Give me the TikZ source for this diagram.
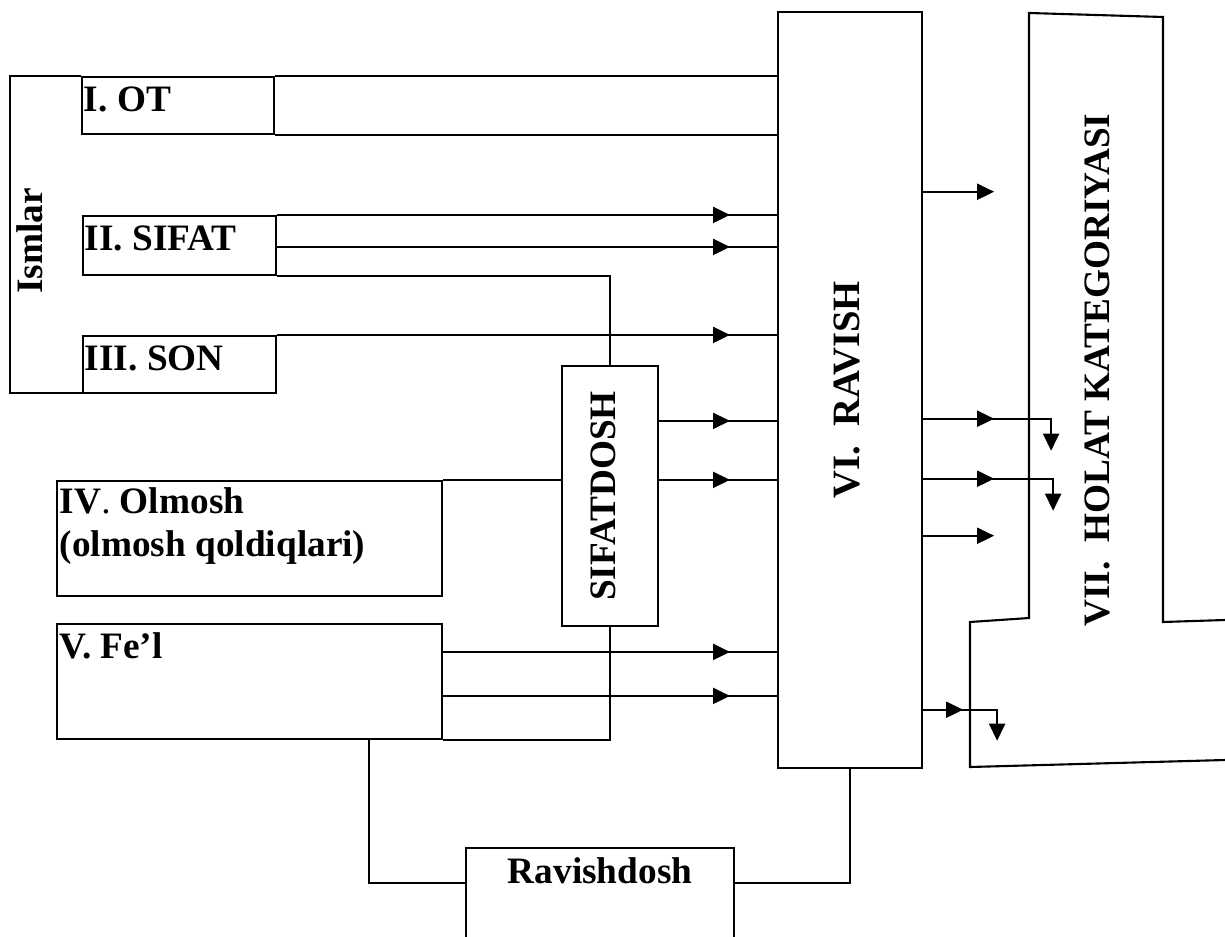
\documentclass[tikz,border=0pt]{standalone}
\usepackage{fontspec}
\setmainfont{Liberation Serif}
\usetikzlibrary{arrows.meta}

\begin{document}
\begin{tikzpicture}[x=0.01cm, y=-0.01cm, line width=0.6pt,
    every node/.style={font=\fontsize{10.6}{12.7}\selectfont\bfseries, inner sep=0pt},
    box/.style={draw, rectangle},
    arr/.style={-{Triangle[length=1.7mm, width=1.6mm]}}]
    \useasboundingbox (0,0) rectangle (1225,937);

    % 名詞 (Ismlar)
    \node [box, minimum width=1.92cm, minimum height=0.57cm] (ot) at (178,105.5) {};
    \node [anchor=base west] at ([shift={(2,36)}]ot.north west) {I. OT};
    \node [box, minimum width=1.93cm, minimum height=0.59cm] (sifat) at (179.5,245.5) {};
    \node [anchor=base west] at ([shift={(2,36)}]sifat.north west) {II. SIFAT};
    \node [box, minimum width=1.93cm, minimum height=0.57cm] (son) at (179.5,364.5) {};
    \node [anchor=base west] at ([shift={(2,36)}]son.north west) {III. SON};
    \draw (ot.north west) -| (10,393) -- (105,393);
    \node [rotate=90] (ismlar) at (30,241) {Ismlar};

    % 代名詞・動詞
    \node [box, minimum width=3.85cm, minimum height=1.15cm] (olmosh) at (249.5,538.5) {};
    \node [anchor=base west] at ([shift={(3,34)}]olmosh.north west) {IV\textmd{.} Olmosh};
    \node [anchor=base west] at ([shift={(3,77)}]olmosh.north west) {(olmosh qoldiqlari)};
    \node [box, minimum width=3.85cm, minimum height=1.15cm] (fel) at (249.5,681.5) {};
    \node [anchor=base west] at ([shift={(3,36)}]fel.north west) {V. Fe’l};

    % 形動詞
    \node [box, minimum width=0.96cm, minimum height=2.6cm] (sdosh) at (610,496) {};
    \node [rotate=90] at ([xshift=-0.07cm]sdosh.center) {SIFATDOSH};

    % 副詞
    \node [box, minimum width=1.44cm, minimum height=7.56cm] (ravish) at (850,390) {};
    \node [rotate=90, font=\fontsize{11}{13}\selectfont\bfseries] at ([xshift=-0.03cm]ravish.center) {VI.\ \ RAVISH};

    % 副動詞
    \node [minimum width=2.66cm, minimum height=0.89cm, anchor=north west] (rdosh) at (466,848) {};
    \draw (rdosh.south west) |- (rdosh.north east) -- (rdosh.south east);
    \node [anchor=base] at ([yshift=-0.35cm]rdosh.north) {Ravishdosh};

    % 状態カテゴリー
    \draw (1225,620) -- (1163,622) -- (1163,17) -- (1029,13) -- (1029,618)
        -- (970,622) -- (970,767) -- (1225,760);
    \node [rotate=90] (holat) at (1097,370) {VII.\ \ HOLAT KATEGORIYASI};

    % 左から副詞へ
    \coordinate (tip) at (730,0);
    \path (sifat.north east) ++(0,32) coordinate (a2);
    \path (sdosh.north east) ++(0,56) coordinate (s1) ++(0,59) coordinate (s2);
    \path (fel.north east) ++(0,29) coordinate (f1) ++(0,44) coordinate (f2);
    \draw (ot.north east) -- (ot.north east -| ravish.west);
    \draw (ot.south east) -- (ot.south east -| ravish.west);
    \foreach \p in {sifat.north east, a2, son.north east, s1, s2, f1, f2} {
        \draw (\p) -- (\p -| ravish.west);
        \draw [arr] (\p) -- (\p -| tip);
    }
    \draw (sifat.south east) -| (sdosh.north);
    \draw (olmosh.north east) -- (olmosh.north east -| sdosh.west);
    \draw (fel.south east) -| (sdosh.south);

    % 副動詞の線
    \path (rdosh.north west) ++(0,35) coordinate (r1);
    \path (rdosh.north east) ++(0,35) coordinate (r2);
    \draw (fel.south west) ++(313,0) |- (r1);
    \draw (r2) -| (ravish.south);

    % 副詞から右へ
    \draw [arr] (ravish.north east) ++(0,181) -- ++(71,0);
    \draw [arr] (ravish.north east) ++(0,408) -- ++(71,0);
    \draw [arr] (ravish.north east) ++(0,408) -| ++(128,32);
    \draw [arr] (ravish.north east) ++(0,468) -- ++(71,0);
    \draw [arr] (ravish.north east) ++(0,468) -| ++(130,32);
    \draw [arr] (ravish.north east) ++(0,525) -- ++(71,0);
    \draw [arr] (ravish.north east) ++(0,699) -- ++(40,0);
    \draw [arr] (ravish.north east) ++(0,699) -| ++(74,31);

\end{tikzpicture}
\end{document}
